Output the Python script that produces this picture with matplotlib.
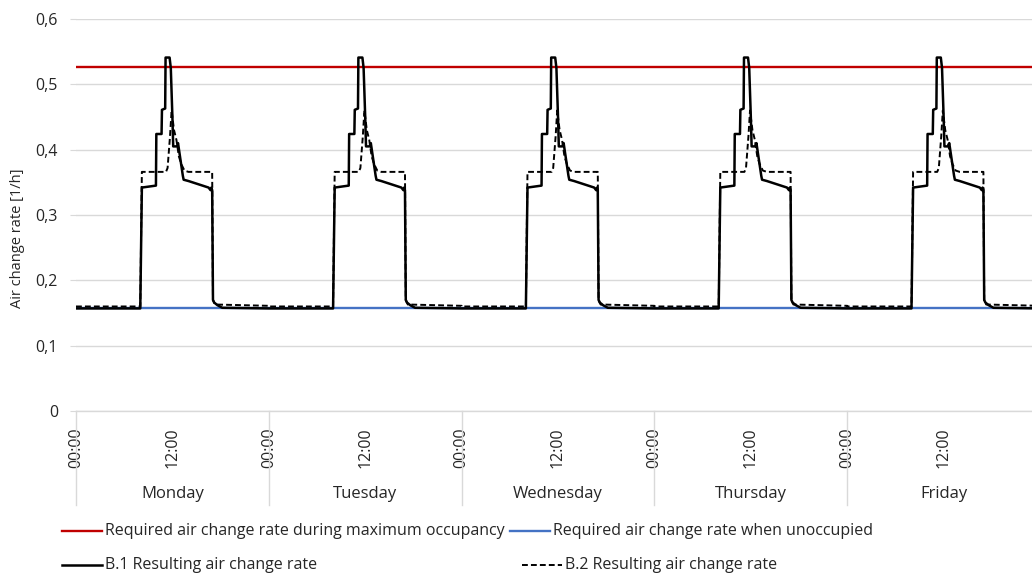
import matplotlib
matplotlib.use("Agg")
import matplotlib.pyplot as plt
from matplotlib.lines import Line2D
import numpy as np

plt.rcParams['font.family'] = ['Open Sans', 'DejaVu Sans']

# week days shown on the x axis
days = ['Monday', 'Tuesday', 'Wednesday', 'Thursday', 'Friday']

# required rates [1/h]
req_max_occupancy = 0.527
req_unoccupied = 0.157

# one working day of B.1 (hour of day, air change rate), same every day
b1_hours = [0, 8.0, 8.2, 9.95, 10.0, 10.65, 10.7, 11.1, 11.15, 11.65, 11.8, 12.0, 12.1,
            12.55, 12.7, 13.3, 13.4, 14.0, 14.5, 15.0, 15.5, 16.0, 16.5, 16.75, 16.85,
            16.95, 17.05, 17.2, 17.6, 18.2, 24]
b1_rate = [0.157, 0.157, 0.342, 0.345, 0.424, 0.424, 0.461, 0.463, 0.541, 0.541, 0.525,
           0.45, 0.405, 0.405, 0.41, 0.36, 0.354, 0.352, 0.35, 0.348, 0.346, 0.344, 0.342,
           0.338, 0.342, 0.338, 0.17, 0.166, 0.162, 0.158, 0.157]

# one working day of B.2
b2_hours = [0, 8.0, 8.2, 11.2, 11.4, 11.7, 11.9, 12.2, 12.5, 12.8, 13.1, 13.5, 14.0,
            16.95, 17.05, 17.3, 24]
b2_rate = [0.16, 0.16, 0.366, 0.366, 0.372, 0.42, 0.46, 0.43, 0.415, 0.39, 0.378, 0.368,
           0.366, 0.366, 0.17, 0.163, 0.161]

tick_labels = ['00:00', '12:00']

# build the week from the daily profile
week_h = np.concatenate([np.array(b1_hours) + 24 * d for d in range(len(days))])
week_b1 = np.tile(b1_rate, len(days))
week_h2 = np.concatenate([np.array(b2_hours) + 24 * d for d in range(len(days))])
week_b2 = np.tile(b2_rate, len(days))

W, H = 1032, 574
fig = plt.figure(figsize=(W / 100, H / 100), dpi=100)
ax = fig.add_axes([76 / W, 1 - 411 / H, 1 - 76 / W, (411 - 19) / H])

grey = '#d9d9d9'
txt = '#262626'

ax.axhline(req_max_occupancy, color='#c00000', lw=1.7, zorder=3)
ax.axhline(req_unoccupied, color='#4472c4', lw=1.7, zorder=2)
ax.plot(week_h, week_b1, color='black', lw=1.8, zorder=4)
ax.plot(week_h2, week_b2, color='black', lw=1.4, ls=(0, (3, 1.6)), zorder=5)

ax.set_xlim(0, 119)
ax.set_ylim(0, 0.6)
ax.set_yticks(np.arange(0, 0.61, 0.1))
ax.set_yticklabels(['0'] + ['0,%d' % i for i in range(1, 7)])
ax.grid(axis='y', color=grey, lw=1)
ax.set_axisbelow(True)
for s in ['top', 'right', 'left']:
    ax.spines[s].set_visible(False)
ax.spines['bottom'].set_color(grey)
ax.spines['bottom'].set_linewidth(1)
ax.tick_params(axis='y', length=4, color=grey, pad=9, labelsize=11.5, labelcolor=txt)

xt = np.arange(0, 24 * len(days), 12)
ax.set_xticks(xt)
ax.set_xticklabels([tick_labels[i % 2] for i in range(len(xt))], rotation=90)
ax.tick_params(axis='x', length=0, pad=12, labelsize=11.5, labelcolor=txt)

# day separators and day names under the time labels
xtr = ax.get_xaxis_transform()
axh = 411 - 19
for d, name in enumerate(days):
    ax.plot([24 * d, 24 * d], [0, -(505 - 411) / axh], color=grey, lw=1,
            transform=xtr, clip_on=False)
    ax.text(24 * d + 12, -(494 - 411) / axh, name, transform=xtr, ha='center',
            va='center', fontsize=12, color=txt)

fig.text(18 / W, 1 - 238 / H, 'Air change rate [1/h]', rotation=90, ha='center',
         va='center', fontsize=10.5, color=txt)

# legend laid out like the original
entries = [
    (62, 531, dict(color='#c00000', lw=1.7), 'Required air change rate during maximum occupancy'),
    (510, 531, dict(color='#4472c4', lw=1.7), 'Required air change rate when unoccupied'),
    (62, 565, dict(color='black', lw=1.8), 'B.1 Resulting air change rate'),
    (522, 565, dict(color='black', lw=1.4, ls=(0, (3, 1.6))), 'B.2 Resulting air change rate'),
]
for x0, y0, style, label in entries:
    fig.add_artist(Line2D([x0 / W, (x0 + 40) / W], [1 - y0 / H, 1 - y0 / H], **style))
    fig.text((x0 + 43) / W, 1 - y0 / H, label, ha='left', va='center',
             fontsize=11.5, color=txt)

fig.savefig('out.png', dpi=100)
